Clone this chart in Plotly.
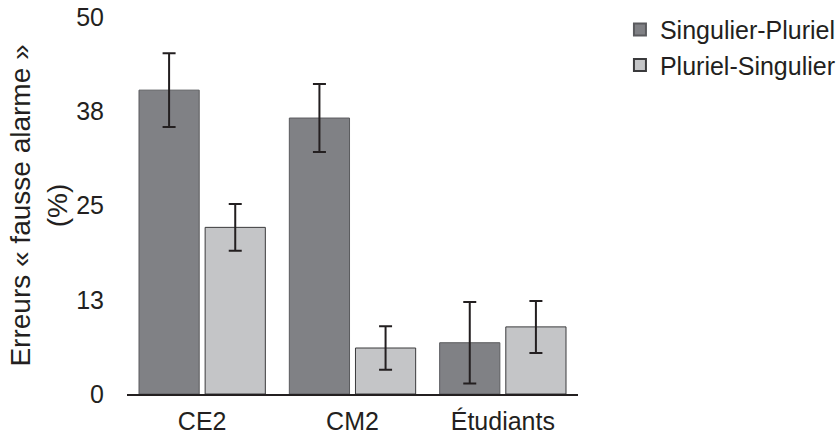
import plotly.graph_objects as go

categories = ["CE2", "CM2", "Étudiants"]
sing_plur = [40.3, 36.6, 6.8]
sing_plur_err = [4.9, 4.5, 5.4]
plur_sing = [22.1, 6.1, 8.9]
plur_sing_err = [3.1, 2.9, 3.45]
y_tick_vals = [0, 12.5, 25, 37.5, 50]
y_tick_text = ["0", "13", "25", "38", "50"]

FONT = "Liberation Sans, Arial, Helvetica, sans-serif"
INK = "#231f20"

fig = go.Figure()
fig.add_trace(go.Bar(
    name="Singulier-Pluriel", x=categories, y=sing_plur,
    marker=dict(color="#808185", line=dict(color="#5a5b5e", width=1)),
    error_y=dict(type="data", array=sing_plur_err, color=INK, thickness=2, width=6.5),
))
fig.add_trace(go.Bar(
    name="Pluriel-Singulier", x=categories, y=plur_sing,
    marker=dict(color="#c4c5c7", line=dict(color="#3a3a3c", width=1)),
    error_y=dict(type="data", array=plur_sing_err, color=INK, thickness=2, width=6.5),
))

fig.update_layout(
    width=840, height=438,
    margin=dict(l=127, r=262, t=17, b=44, autoexpand=False),
    paper_bgcolor="white", plot_bgcolor="white",
    font=dict(family=FONT, size=25, color=INK),
    barmode="group", bargap=0.12, bargroupgap=0.09,
    showlegend=True,
    legend=dict(x=1.093, xanchor="left", y=1.027, yanchor="top",
                font=dict(size=25, family=FONT, color=INK),
                bgcolor="rgba(0,0,0,0)", tracegroupgap=0, itemsizing="constant"),
    xaxis=dict(range=[-0.5, 2.5], showline=True, linecolor=INK, linewidth=2,
               ticks="", showgrid=False, zeroline=False,
               tickfont=dict(size=25, family=FONT, color=INK), ticklabelstandoff=4),
    yaxis=dict(range=[0, 50], tickvals=y_tick_vals, ticktext=y_tick_text,
               showline=False, showgrid=False, zeroline=False, ticks="",
               tickfont=dict(size=25, family=FONT, color=INK), ticklabelstandoff=22,
               title=dict(text="Erreurs « fausse alarme »<br>(%)",
                          font=dict(size=28, family=FONT, color=INK), standoff=0)),
)

fig.write_html("out.html", config={"displayModeBar": False},
               post_script="document.body.style.margin='0';")
